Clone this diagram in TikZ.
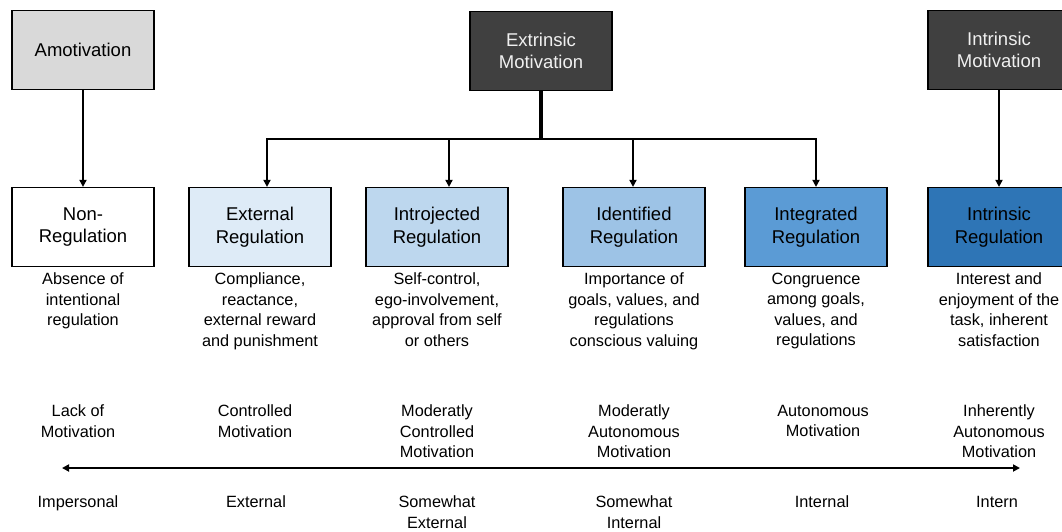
\documentclass[tikz,border=0pt]{standalone}
\usepackage{fontspec}
\setmainfont{Liberation Sans}
\usetikzlibrary{
	arrows.meta,
	positioning,
}
\definecolor{amotgray}{HTML}{D9D9D9}
\definecolor{motdark}{HTML}{404040}
\definecolor{regA}{HTML}{DEEBF7}
\definecolor{regB}{HTML}{BDD7EE}
\definecolor{regC}{HTML}{9DC3E6}
\definecolor{regD}{HTML}{5B9BD5}
\definecolor{regE}{HTML}{2E75B6}
\tikzset{regbox/.style={
		% The shape:
		rectangle,
		% The size:
		minimum width=142pt,
		minimum height=79pt,
		% The border:
		line width=1.2pt,
		draw=black,
		% The text:
		align=center,
		font=\fontsize{18.5}{22.5}\selectfont,
}}
\tikzset{motbox/.style={
		regbox,
		fill=motdark,
		text=white!94!black,
}}
\tikzset{desc/.style={
		align=center,
		inner sep=0pt,
		font=\fontsize{16.3}{20.5}\selectfont,
}}

\begin{document}
\begin{tikzpicture}[
	x=1pt, y=-1pt,
	>={Triangle[length=7pt,width=7pt]},
	line width=2pt,
	text=black,
	node distance=177pt,
	]
	\useasboundingbox (0,0) rectangle (1062,531);
	
	%% motivation types
	\node (amot) [regbox,fill=amotgray] at (83,50) {Amotivation};
	\node (extr) [motbox] at (541,51) {Extrinsic\\Motivation};
	\node (intr) [motbox] at (999,50) {Intrinsic\\Motivation};
	
	%% regulation types
	\node (nonreg) [regbox,fill=white] at (83,227) {Non-\\Regulation};
	\node (extreg) [regbox,fill=regA,right of=nonreg] {External\\Regulation};
	\node (introreg) [regbox,fill=regB,right of=extreg] {Introjected\\Regulation};
	\node (identreg) [regbox,fill=regC,right of=introreg,xshift=20pt] {Identified\\Regulation};
	\node (integreg) [regbox,fill=regD,right of=identreg,xshift=5pt] {Integrated\\Regulation};
	\node (intrreg) [regbox,fill=regE,right of=integreg,xshift=6pt] {Intrinsic\\Regulation};
	
	%% what each regulation means
	\node (dnon) [desc,below=5pt of nonreg] {Absence of\\intentional\\regulation};
	\node (dext) [desc,below=5pt of extreg] {Compliance,\\reactance,\\external reward\\and punishment};
	\node (dintro) [desc,below=5pt of introreg] {Self-control,\\ego-involvement,\\approval from self\\or others};
	\node (dident) [desc,below=5pt of identreg] {Importance of\\goals, values, and\\regulations\\conscious valuing};
	\node (dinteg) [desc,below=5pt of integreg] {Congruence\\among goals,\\values, and\\regulations};
	\node (dintr) [desc,below=5pt of intrreg] {Interest and\\enjoyment of the\\task, inherent\\satisfaction};
	
	%% kind of motivation
	\node (mnon) [desc,below=137pt of nonreg,xshift=-5pt] {Lack of\\Motivation};
	\node (mext) [desc,below=137pt of extreg,xshift=-5pt] {Controlled\\Motivation};
	\node (mintro) [desc,below=137pt of introreg] {Moderatly\\Controlled\\Motivation};
	\node (mident) [desc,below=137pt of identreg] {Moderatly\\Autonomous\\Motivation};
	\node (minteg) [desc,below=137pt of integreg,xshift=7pt] {Autonomous\\Motivation};
	\node (mintr) [desc,below=137pt of intrreg] {Inherently\\Autonomous\\Motivation};
	
	%% locus of causality
	\node (cnon) [desc,below=228pt of nonreg,xshift=-5pt] {Impersonal};
	\node (cext) [desc,below=228pt of extreg,xshift=-4pt] {External};
	\node (cintro) [desc,below=228pt of introreg] {Somewhat\\External};
	\node (cident) [desc,below=228pt of identreg] {Somewhat\\Internal};
	\node (cinteg) [desc,below=228pt of integreg,xshift=6pt] {Internal};
	\node (cintr) [desc,below=228pt of intrreg,xshift=-2pt] {Intern};
	
	%% arrows down to the regulations
	\draw[->] (amot) -- (nonreg);
	\draw[->] (intr) -- (intrreg);
	\coordinate (bus) at (541,139);
	\draw[line width=4pt] (extr) -- (bus);
	\draw[->,line width=2.5pt] (bus) -| ([xshift=7pt]extreg.north);
	\draw[->,line width=2.5pt] (bus) -| ([xshift=12pt]introreg.north);
	\draw[->,line width=2.5pt] (bus) -| ([xshift=-1pt]identreg.north);
	\draw[->,line width=2.5pt] (bus) -| (integreg.north);
	
	%% continuum
	\coordinate (axl) at (62,468);
	\coordinate (axr) at (1020,468);
	\draw[<->,line width=2.3pt] (axl) -- (axr);
	
\end{tikzpicture}
\end{document}
